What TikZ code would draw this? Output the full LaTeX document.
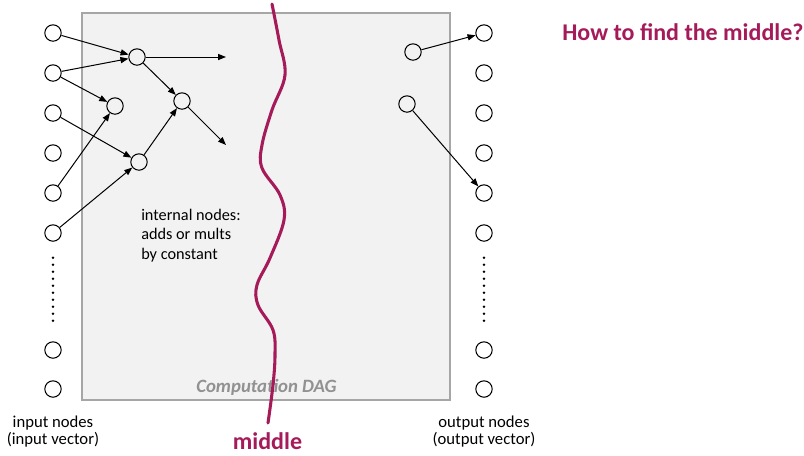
\documentclass[tikz,border=0pt]{standalone}
\usepackage{fontspec}
\setmainfont{Carlito}
\usetikzlibrary{arrows.meta}
\definecolor{mag}{RGB}{165,27,90}
\definecolor{boxfill}{RGB}{242,242,242}
\definecolor{boxline}{RGB}{166,166,166}
\definecolor{daggray}{RGB}{145,145,145}
\begin{document}
\begin{tikzpicture}[x=0.75pt,y=-0.75pt,
  vtx/.style={circle,draw=black,line width=0.8pt,minimum size=12.3pt,inner sep=0pt},
  edge/.style={-{Triangle[length=6pt,width=4.6pt]},line width=0.75pt},
  lbl/.style={font=\fontsize{12.5}{15}\selectfont,inner sep=0pt,anchor=base},
  inttext/.style={font=\fontsize{12.2}{14.6}\selectfont,inner sep=0pt,anchor=base west},
  dotline/.style={line width=2pt,dash pattern=on 0pt off 5.25pt,line cap=round},
  title/.style={font=\bfseries\fontsize{18}{21}\selectfont,text=mag,inner sep=0pt}
]
\useasboundingbox (0,0) rectangle (804,455);
\draw[fill=boxfill,draw=boxline,line width=1pt] (82,13) rectangle (450,400);

% input nodes
\foreach \i/\y in {1/33,2/73,3/113,4/153,5/193,6/233,7/350,8/389}{
  \node[vtx] (in\i) at (53,\y) {};
  \node[vtx] (out\i) at (484,\y) {};
}
\draw[dotline,shorten <=12pt,shorten >=11pt] (in6) -- (in7);
\draw[dotline,shorten <=12pt,shorten >=11pt] (out6) -- (out7);

% internal nodes
\node[vtx] (A) at (137,57) {};
\node[vtx] (B) at (115,106) {};
\node[vtx] (C) at (182,101) {};
\node[vtx] (D) at (139,162) {};
\node[vtx] (E) at (413,52) {};
\node[vtx] (F) at (407,104) {};
\coordinate (Aend) at (226,57);
\coordinate (Cend) at (226,145);

\draw[edge] (in1) -- (A);
\draw[edge] (in2) -- (A);
\draw[edge] (in2) -- (B);
\draw[edge] (in3) -- (D);
\draw[edge] (in5) -- (B);
\draw[edge] (in6) -- (D);
\draw[edge] (A) -- (C);
\draw[edge] (D) -- (C);
\draw[edge] (A) -- (Aend);
\draw[edge] (C) -- (Cend);
\draw[edge] (E) -- (out1);
\draw[edge] (F) -- (out5);

% texts
\node[inttext] (t1) at (141,220) {internal nodes:};
\node[inttext] (t2) at (141,239.5) {adds or mults};
\node[inttext] (t3) at (141,259) {by constant};
\node[font=\bfseries\itshape\fontsize{14.1}{16}\selectfont,text=daggray,inner sep=0pt,anchor=base] (dag) at (266.5,392) {Computation DAG};

\node[lbl] (il1) at (53,427) {input nodes};
\node[lbl] (il2) at (53,444) {(input vector)};
\node[lbl] (ol1) at (484,427) {output nodes};
\node[lbl] (ol2) at (484,444) {(output vector)};

% middle curve
\draw[mag,line width=2.3pt,line cap=round] plot[smooth,tension=0.6] coordinates {
 (272,4) (279,40) (285,75) (272,110) (262,145) (262,168) (280,195) (284,220)
 (270,258) (257,285) (258,305) (273,330) (275,355) (273,385) (268,423)};

\node[title,anchor=base] (mid) at (267.5,449.5) {middle};
\node[title,anchor=base west] (how) at (562,40) {How to find the middle?};
\end{tikzpicture}
\end{document}
